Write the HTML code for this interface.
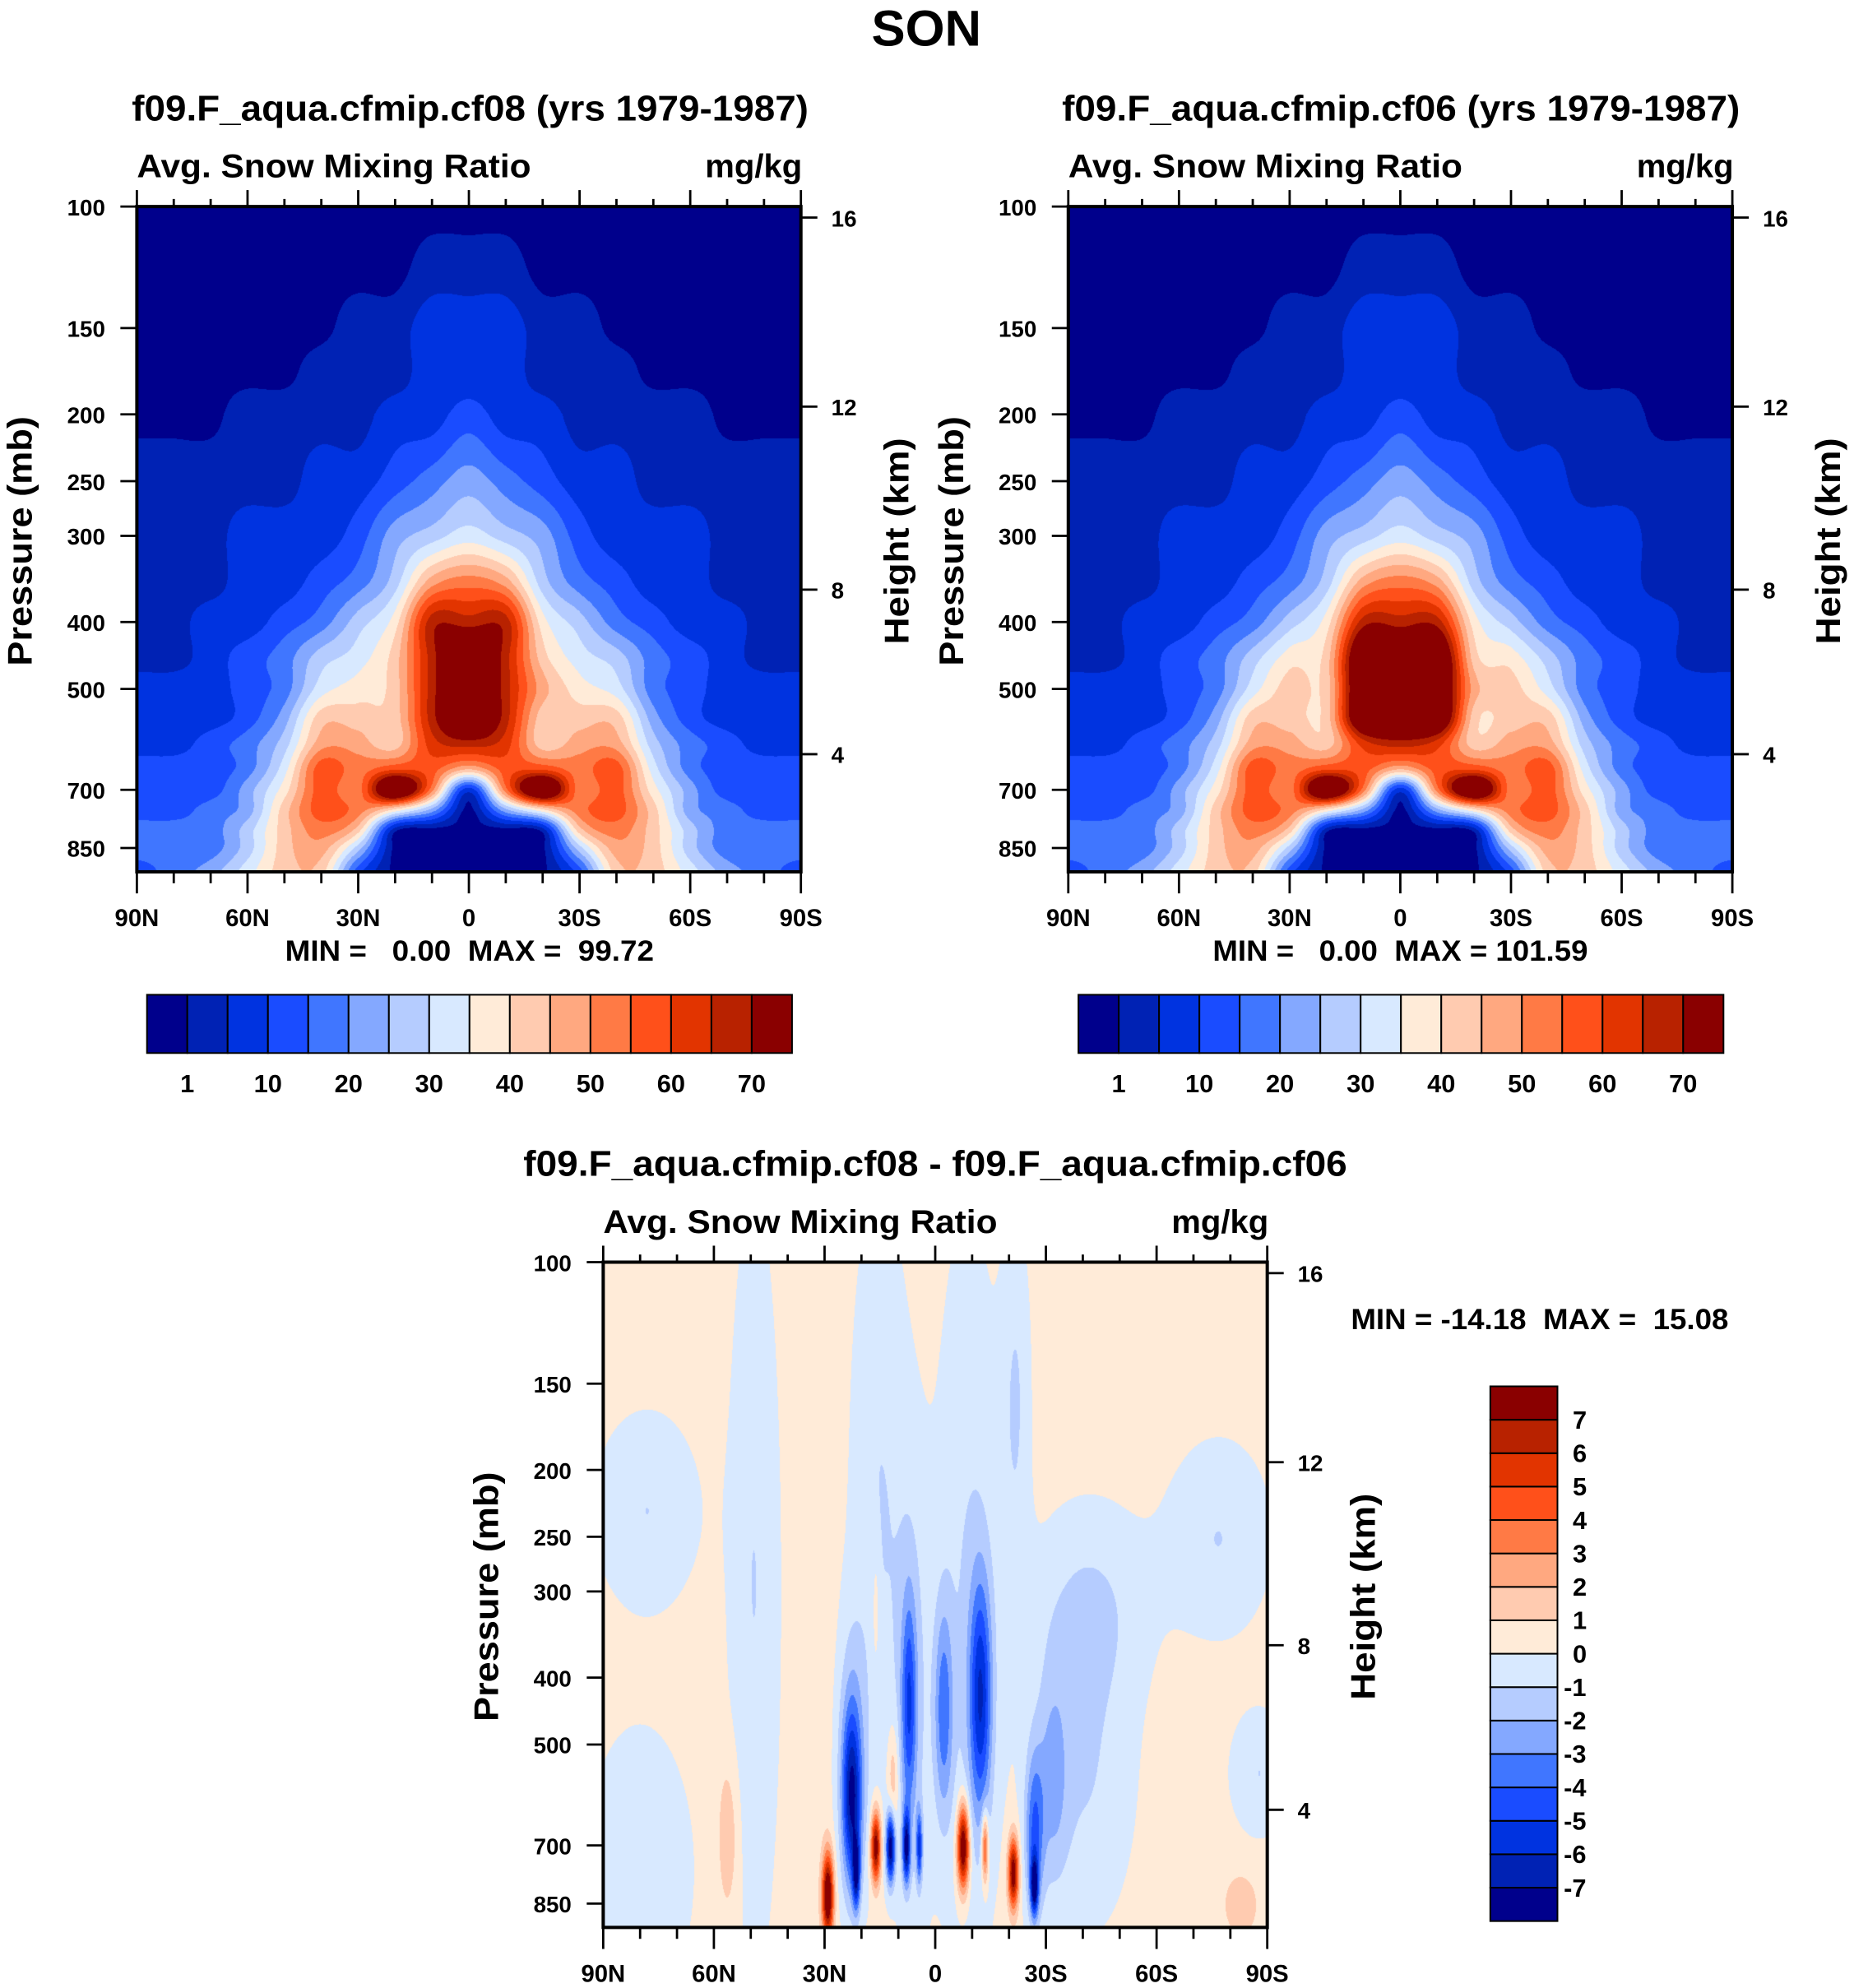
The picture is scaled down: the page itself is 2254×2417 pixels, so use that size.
<!DOCTYPE html>
<html><head><meta charset="utf-8"><title>SON Avg. Snow Mixing Ratio</title>
<style>
html,body{margin:0;padding:0;background:#fff;}
#wrap{position:relative;width:2254px;height:2417px;overflow:hidden;background:#fff;}
canvas{position:absolute;}
svg{position:absolute;left:0;top:0;}
text{font-family:"Liberation Sans",Arial,sans-serif;font-weight:bold;fill:#000;white-space:pre;}
</style></head>
<body>
<div id="wrap">
<canvas id="cvA"></canvas>
<canvas id="cvB"></canvas>
<canvas id="cvC"></canvas>
<svg id="svg" width="2254" height="2417" viewBox="0 0 1463 1568.8">
<text x="731" y="36" font-size="40" text-anchor="middle">SON</text>
<text x="104" y="95" font-size="28" textLength="534" lengthAdjust="spacingAndGlyphs">f09.F_aqua.cfmip.cf08 (yrs 1979-1987)</text>
<text x="838" y="95" font-size="28" textLength="535" lengthAdjust="spacingAndGlyphs">f09.F_aqua.cfmip.cf06 (yrs 1979-1987)</text>
<text x="413" y="928" font-size="28" textLength="650" lengthAdjust="spacingAndGlyphs">f09.F_aqua.cfmip.cf08 - f09.F_aqua.cfmip.cf06</text>
<text x="225" y="758" font-size="23" textLength="291" lengthAdjust="spacingAndGlyphs">MIN =   0.00  MAX =  99.72</text>
<text x="957" y="758" font-size="23" textLength="296" lengthAdjust="spacingAndGlyphs">MIN =   0.00  MAX = 101.59</text>
<text x="1066" y="1049" font-size="23" textLength="298" lengthAdjust="spacingAndGlyphs">MIN = -14.18  MAX =  15.08</text>
<g id="axes"></g>
</svg>
</div>
<script>
// ---------- data ----------
const palette = ["#00008c","#0022b4","#0033e0","#1a4cff","#4076ff","#84a8ff","#b5ccff","#d8e9ff","#ffebd8","#ffcbb0","#ffa880","#ff7a45","#ff501a","#e23400","#b82200","#8a0000"];
const fieldLevels = [1,5,10,15,20,25,30,35,40,45,50,55,60,65,70];
const fieldLevelLabels = ["1","10","20","30","40","50","60","70"];
const diffLevels = [-7,-6,-5,-4,-3,-2,-1,0,1,2,3,4,5,6,7];
const gridLat = [90,80,70,60,50,40,30,20,10,0,-10,-20,-30,-40,-50,-60,-70,-80,-90];
const gridP = [100,125,150,175,200,250,300,350,400,450,500,550,600,650,700,750,800,850,920];
// class index -> representative value (mg/kg)
const classValue = [0,3,7.5,12.5,17.5,22.5,27.5,32.5,37.5,42.5,47.5,52.5,57.5,62.5,67.5,85];
// per-latitude column, one hex class per pressure level (top -> bottom)
const cf08Cols = [
 "0000011111222333443","0000011111222333444","0000011122223334445","0000112223334455667",
 "0000112234456789999","000112234679acccba9","001112346789abbb963","0011235689999cf8100",
 "0122246aeeeedcb5000","0122357befffea20000",
 "0122246aeeeedcb5000","0011235689a99cf8100","001112346789abbb963","000112234679acccba9",
 "0000112234456789999","0000112223334455667","0000011122223334445","0000011111222333444","0000011111222333443"];
const cf06Cols = [
 "0000011111222333443","0000011111222333444","0000011122223334445","0000112223334455667",
 "0000112234456789999","000112234679acccba9","001112346899abbb963","0011235689999cf8100",
 "0122246aefffdcb5000","0122357befffea20000",
 "0122246aefffdcb5000","0011235689a99cf8100","001112346899abbb963","000112234679acccba9",
 "0000112234456789999","0000112223334455667","0000011122223334445","0000011111222333444","0000011111222333443"];
// difference field features: latitude, pressure (mb), amplitude (mg/kg), half-width lat (deg), half-width (log10 p)
const diffBase = 0.5;
const diffLat = [78,80,49,15,6,-9,-22,-42,-77,-40,-88, 22.5,22.5,7,-2.4,-12.4,-27,-32, 16,12,7.7,4.2,-7.7,-13.6,-21.3,29,21.3,-27, 56,11.3,16,-83];
const diffP   = [229,760,300,224,447,316,158,316,251,562,550, 598,537,437,447,427,676,562, 703,703,703,703,703,703,767,826,767,800, 676,562,316,851];
const diffAmp = [-1.5,-1.5,-1.5,-1.5,-1.5,-1.5,-1.5,-1.5,-1.5,-1.5,-1.5, -5.5,-2.5,-4,-3.5,-5.5,-4,-2, 8,-8,-7,-5,9,5,8,9,-6,-7, 1.5,2,1.2,1.5];
const diffWLat= [14,14,7,8,5,9,4,16,14,14,8, 2.5,4,2,2.5,3,2.5,4, 1.3,1.2,1,0.8,1.6,0.9,1.4,1.5,1,1, 3,1.5,1,4];
const diffWP  = [0.14,0.2,0.55,0.45,0.35,0.55,0.25,0.15,0.14,0.22,0.09, 0.12,0.2,0.15,0.15,0.17,0.12,0.15, 0.05,0.05,0.05,0.05,0.06,0.05,0.05,0.06,0.05,0.04, 0.12,0.08,0.1,0.04];
const pressTicks = [100,150,200,250,300,400,500,700,850];
const heightTicks = [4,8,12,16];
const latTickLabels = ["90N","60N","30N","0","30S","60S","90S"];

// ---------- geometry ----------
const S = 2254/1463;
const DEC = 544.6; // px per decade of pressure
const panels = [
 {id:"cf08", x:108, y:163, w:524, h:525, cv:"cvA", cols:cf08Cols},
 {id:"cf06", x:843, y:163, w:524, h:525, cv:"cvB", cols:cf06Cols},
 {id:"difference", x:476, y:996, w:524, h:525, cv:"cvC", cols:null}
];
const NS = "http://www.w3.org/2000/svg";
const axes = document.getElementById("axes");
function mk(tag, attrs, parent){const e=document.createElementNS(NS,tag);for(const k in attrs)e.setAttribute(k,attrs[k]);(parent||axes).appendChild(e);return e;}
function xOfLat(pn,lat){return pn.x + (90-lat)/180*pn.w;}
function yOfP(pn,p){return pn.y + Math.log10(p/100)*DEC;}
function pOfZ(km){const z=km*1000; if(z<=11000) return 1013.25*Math.pow(1-2.25577e-5*z,5.2559); return 226.32*Math.exp(-(z-11000)/6341.6);}
function rgb(h){return [parseInt(h.substr(1,2),16),parseInt(h.substr(3,2),16),parseInt(h.substr(5,2),16)];}
const palRGB = palette.map(rgb);
function classOf(v, levels){let k=0; while(k<levels.length && v>=levels[k]) k++; return k;}

function cr(p0,p1,p2,p3,t){ // Catmull-Rom
  return 0.5*((2*p1)+(-p0+p2)*t+(2*p0-5*p1+4*p2-p3)*t*t+(-p0+3*p1-3*p2+p3)*t*t*t);
}
const logGridP = gridP.map(Math.log10);
function gridValue(cols, lat, p){
  let fi=(90-lat)/10; if(fi<0)fi=0; if(fi>18)fi=18;
  const i1=Math.min(17,Math.floor(fi)), ti=fi-i1;
  const lp=Math.log10(p); let j1=0;
  while(j1<gridP.length-2 && lp>logGridP[j1+1]) j1++;
  let tj=(lp-logGridP[j1])/(logGridP[j1+1]-logGridP[j1]); if(tj<0)tj=0; if(tj>1)tj=1;
  const v=(c,j)=>{c=Math.max(0,Math.min(18,c)); j=Math.max(0,Math.min(18,j)); return classValue[parseInt(cols[c][j],16)];};
  const row=[];
  for(let dj=-1;dj<=2;dj++){
    const j=j1+dj;
    row.push(cr(v(i1-1,j),v(i1,j),v(i1+1,j),v(i1+2,j),ti));
  }
  return cr(row[0],row[1],row[2],row[3],tj);
}
function diffValue(lat,p){
  const lp=Math.log10(p); let s=diffBase;
  for(let k=0;k<diffLat.length;k++){
    const dx=(lat-diffLat[k])/diffWLat[k], dy=(lp-Math.log10(diffP[k]))/diffWP[k];
    const r2=dx*dx+dy*dy; if(r2<16) s+=diffAmp[k]*Math.exp(-r2);
  }
  return s;
}
function drawField(pn){
  const cv=document.getElementById(pn.cv);
  const W=Math.round(pn.w*S), H=Math.round(pn.h*S);
  cv.width=W; cv.height=H;
  cv.style.left=(pn.x*S)+"px"; cv.style.top=(pn.y*S)+"px";
  cv.style.width=W+"px"; cv.style.height=H+"px";
  const ctx=cv.getContext("2d"); const img=ctx.createImageData(W,H); const d=img.data;
  for(let py=0;py<H;py++){
    const p=100*Math.pow(10,((py+0.5)/H*pn.h)/DEC);
    for(let px=0;px<W;px++){
      const lat=90-180*(px+0.5)/W;
      let c;
      if(pn.cols) c=classOf(gridValue(pn.cols,lat,p),fieldLevels);
      else c=classOf(diffValue(lat,p),diffLevels);
      const col=palRGB[c], o=(py*W+px)*4;
      d[o]=col[0];d[o+1]=col[1];d[o+2]=col[2];d[o+3]=255;
    }
  }
  ctx.putImageData(img,0,0);
}
panels.forEach(drawField);

// ---------- axes ----------
panels.forEach(pn=>{
  const g=mk("g",{});
  
  
  const box=mk("rect",{x:pn.x,y:pn.y,width:pn.w,height:pn.h,fill:"none",stroke:"#000","stroke-width":2.6},g);
  
  
  for(let lat=90;lat>=-90;lat-=10){
    const x=xOfLat(pn,lat), major=(lat%30===0), L=major?13:6;
    const t1=mk("line",{x1:x,x2:x,y1:pn.y,y2:pn.y-L,stroke:"#000","stroke-width":1.8},g);
    
    
    const t2=mk("line",{x1:x,x2:x,y1:pn.y+pn.h,y2:pn.y+pn.h+(major?17:9),stroke:"#000","stroke-width":1.8},g);
    
    
  }
  latTickLabels.forEach((lab,i)=>{
    const t=mk("text",{x:xOfLat(pn,90-30*i),y:pn.y+pn.h+43,"font-size":19,"text-anchor":"middle"},g);
    t.textContent=lab;
    
    
  });
  pressTicks.forEach(p=>{
    const y=yOfP(pn,p);
    const l=mk("line",{x1:pn.x,x2:pn.x-13,y1:y,y2:y,stroke:"#000","stroke-width":1.8},g);
    
    
    const t=mk("text",{x:pn.x-25,y:y+7,"font-size":18,"text-anchor":"end"},g);
    t.textContent=String(p);
    
    
  });
  heightTicks.forEach(km=>{
    const y=yOfP(pn,pOfZ(km))+2;
    const l=mk("line",{x1:pn.x+pn.w,x2:pn.x+pn.w+13,y1:y,y2:y,stroke:"#000","stroke-width":1.8},g);
    
    
    const t=mk("text",{x:pn.x+pn.w+24,y:y+7,"font-size":18},g);
    t.textContent=String(km);
    
    
  });
  const cy=pn.y+264;
  const yl=mk("text",{x:0,y:0,"font-size":27,"text-anchor":"middle",transform:`translate(${pn.x-83},${cy}) rotate(-90)`,textLength:197,lengthAdjust:"spacingAndGlyphs"},g);
  yl.textContent="Pressure (mb)";
  
  
  const hl=mk("text",{x:0,y:0,"font-size":27,"text-anchor":"middle",transform:`translate(${pn.x+pn.w+85},${cy}) rotate(-90)`,textLength:163,lengthAdjust:"spacingAndGlyphs"},g);
  hl.textContent="Height (km)";
  
  
  const lt=mk("text",{x:pn.x,y:pn.y-23,"font-size":26,textLength:311,lengthAdjust:"spacingAndGlyphs"},g);
  lt.textContent="Avg. Snow Mixing Ratio";
  
  
  const rt=mk("text",{x:pn.x+pn.w+1,y:pn.y-23,"font-size":26,"text-anchor":"end"},g);
  rt.textContent="mg/kg";
  
  
});

// ---------- horizontal colorbars ----------
[{x:116,id:"cf08"},{x:851,id:"cf06"}].forEach(cb=>{
  const g=mk("g",{});
  
  
  const w=509/palette.length, y=785, h=46;
  palette.forEach((c,i)=>{
    const r=mk("rect",{x:cb.x+i*w,y:y,width:w,height:h,fill:c,stroke:"#000","stroke-width":1.3},g);
    
    
  });
  fieldLevelLabels.forEach((lab,i)=>{
    const k=fieldLevels.indexOf(Number(lab));
    const t=mk("text",{x:cb.x+(k+1)*w,y:862,"font-size":20,"text-anchor":"middle"},g);
    t.textContent=lab;
    
    
  });
});
// ---------- vertical colorbar ----------
(function(){
  const g=mk("g",{});
  
  
  const x=1176, top=1094, h=422/palette.length, w=53;
  palette.forEach((c,i)=>{
    const r=mk("rect",{x:x,y:top+(palette.length-1-i)*h,width:w,height:h,fill:c,stroke:"#000","stroke-width":1.3},g);
    
    
  });
  diffLevels.forEach((L,k)=>{
    const y=top+(palette.length-1-k)*h;
    const t=mk("text",{x:L<0?1234:1241,y:y+7,"font-size":20},g);
    t.textContent=String(L);
    
    
  });
})();
</script>
</body></html>
